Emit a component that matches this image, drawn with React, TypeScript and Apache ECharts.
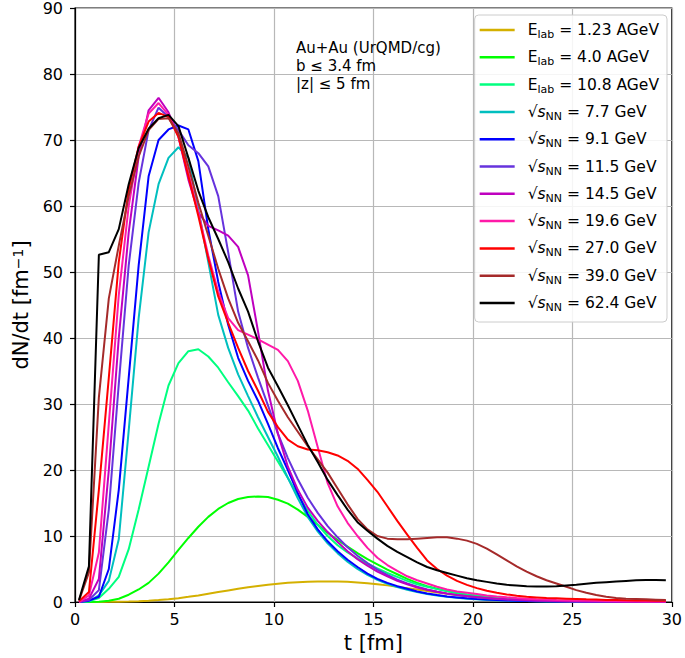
import React, { useEffect, useRef } from 'react';
import * as echarts from 'echarts';

// time bins [fm]
const T = [0.2, 0.7, 1.2, 1.7, 2.2, 2.7, 3.2, 3.7, 4.2, 4.7, 5.2, 5.7, 6.2, 6.7, 7.2, 7.7, 8.2, 8.7, 9.2, 9.7,
  10.2, 10.7, 11.2, 11.7, 12.2, 12.7, 13.2, 13.7, 14.2, 14.7, 15.2, 15.7, 16.2, 16.7, 17.2, 17.7, 18.2, 18.7, 19.2, 19.7,
  20.2, 20.7, 21.2, 21.7, 22.2, 22.7, 23.2, 23.7, 24.2, 24.7, 25.2, 25.7, 26.2, 26.7, 27.2, 27.7, 28.2, 28.7, 29.2, 29.7];

const E123 = [0, 0, 0.01, 0.02, 0.04, 0.07, 0.12, 0.19, 0.3, 0.42, 0.58, 0.78, 1.0, 1.25, 1.5, 1.75, 2.0, 2.22, 2.42, 2.62,
  2.78, 2.9, 3.0, 3.07, 3.1, 3.12, 3.1, 3.05, 2.97, 2.85, 2.7, 2.52, 2.32, 2.1, 1.88, 1.65, 1.43, 1.23, 1.05, 0.89,
  0.75, 0.62, 0.51, 0.42, 0.34, 0.28, 0.23, 0.19, 0.15, 0.12, 0.1, 0.08, 0.07, 0.06, 0.05, 0.04, 0.03, 0.03, 0.02, 0.02];
const E40 = [0, 0, 0.05, 0.2, 0.5, 1.1, 1.9, 2.9, 4.3, 6.0, 7.9, 9.7, 11.4, 12.9, 14.1, 15.0, 15.6, 15.9, 16.0, 15.9,
  15.5, 14.9, 14.0, 12.9, 11.7, 10.5, 9.4, 8.4, 7.4, 6.5, 5.7, 4.9, 4.2, 3.5, 2.9, 2.4, 2.0, 1.65, 1.35, 1.1,
  0.9, 0.75, 0.6, 0.5, 0.4, 0.33, 0.27, 0.22, 0.18, 0.15, 0.12, 0.1, 0.08, 0.07, 0.06, 0.05, 0.04, 0.03, 0.03, 0.02];
const E108 = [0, 0.1, 0.6, 2.0, 3.8, 8.0, 14.0, 20.5, 27.0, 32.8, 36.2, 38.0, 38.3, 37.2, 35.5, 33.3, 31.2, 29.0, 26.3, 23.8,
  21.3, 18.8, 16.2, 13.8, 11.7, 10.0, 8.6, 7.5, 6.6, 5.8, 5.1, 4.4, 3.8, 3.2, 2.7, 2.3, 1.95, 1.65, 1.4, 1.15,
  0.95, 0.8, 0.65, 0.55, 0.45, 0.37, 0.3, 0.25, 0.2, 0.16, 0.13, 0.11, 0.09, 0.07, 0.06, 0.05, 0.04, 0.03, 0.03, 0.02];
const S77 = [0, 0.1, 1.0, 3.2, 9.5, 26, 43, 56, 63.3, 67.3, 68.9, 67.3, 59.5, 51.5, 43.5, 38.5, 34.5, 31.2, 28, 25,
  22, 18.8, 15.7, 12.9, 10.7, 8.9, 7.4, 6.1, 5.0, 4.1, 3.35, 2.75, 2.25, 1.85, 1.5, 1.2, 1.0, 0.8, 0.65, 0.5,
  0.4, 0.32, 0.26, 0.21, 0.17, 0.14, 0.11, 0.09, 0.07, 0.06, 0.05, 0.04, 0.03, 0.03, 0.02, 0.02, 0.02, 0.01, 0.01, 0.01];
const S91 = [0, 0.2, 0.8, 5, 17, 34, 51, 64.5, 70, 71.6, 72.2, 71.6, 66.8, 56.5, 48.5, 42, 37, 33.5, 30.5, 27,
  23.3, 20, 16.5, 13.3, 11.0, 9.2, 7.7, 6.4, 5.3, 4.3, 3.5, 2.9, 2.4, 2.0, 1.6, 1.3, 1.05, 0.85, 0.7, 0.55,
  0.45, 0.36, 0.29, 0.23, 0.19, 0.15, 0.12, 0.1, 0.08, 0.07, 0.06, 0.05, 0.04, 0.03, 0.03, 0.02, 0.02, 0.02, 0.01, 0.01];
const S115 = [0, 0.3, 1.8, 14, 33, 51, 63.5, 71.5, 74.9, 73.5, 71.5, 69.2, 68, 66, 61.5, 53, 44, 38.5, 34, 29.8,
  25.5, 21.8, 18.6, 15.8, 13.5, 11.5, 9.8, 8.3, 7.0, 5.9, 4.9, 4.1, 3.4, 2.8, 2.3, 1.9, 1.55, 1.27, 1.04, 0.85,
  0.7, 0.57, 0.46, 0.37, 0.3, 0.24, 0.19, 0.15, 0.12, 0.1, 0.08, 0.07, 0.06, 0.05, 0.04, 0.03, 0.03, 0.02, 0.02, 0.02];
const S145 = [0, 0.5, 3.5, 20, 40, 56, 67.5, 74.5, 76.4, 74.2, 70.5, 64, 59, 57, 56.3, 55.5, 53.8, 49.5, 41, 32,
  25.5, 20.5, 17, 14.3, 12.3, 10.6, 9.1, 7.7, 6.5, 5.5, 4.6, 3.9, 3.2, 2.7, 2.2, 1.85, 1.55, 1.3, 1.08, 0.9,
  0.75, 0.62, 0.51, 0.42, 0.35, 0.29, 0.24, 0.2, 0.16, 0.13, 0.11, 0.09, 0.07, 0.06, 0.05, 0.04, 0.04, 0.03, 0.03, 0.02];
const S196 = [0, 1.0, 7.5, 27, 46.5, 60, 69, 74, 75.6, 73.8, 70.5, 65, 59, 52.5, 47, 43, 41.2, 40.5, 39.8, 39,
  38.2, 36.5, 33.5, 29, 23.5, 18, 14.5, 12, 10, 8.2, 6.7, 5.6, 4.7, 3.9, 3.3, 2.8, 2.3, 1.9, 1.6, 1.4,
  1.2, 1.0, 0.85, 0.72, 0.6, 0.5, 0.43, 0.37, 0.32, 0.28, 0.24, 0.21, 0.18, 0.16, 0.14, 0.12, 0.1, 0.09, 0.08, 0.07];
const S270 = [0.1, 1.5, 17, 34, 51.5, 62.5, 69, 72.8, 74.1, 73.5, 70.5, 64.5, 58.5, 52, 46.3, 42.3, 38.5, 35, 32, 28.8,
  26.5, 24.6, 23.6, 23.1, 23.0, 22.7, 22.2, 21.4, 20.2, 18.5, 16.7, 14.5, 12.3, 10.2, 8.2, 6.3, 5.0, 4.0, 3.2, 2.6,
  2.1, 1.7, 1.4, 1.15, 0.95, 0.8, 0.7, 0.6, 0.55, 0.5, 0.45, 0.4, 0.36, 0.32, 0.29, 0.26, 0.24, 0.22, 0.2, 0.18];
const S390 = [0.2, 4.5, 31, 46, 54, 61.5, 67.5, 71.5, 73.2, 73.3, 71, 66, 60.5, 55.5, 50.5, 46, 42.3, 39.5, 36.6, 33.2,
  30.5, 28, 25.8, 23.6, 21.6, 19.6, 17.2, 14.8, 12.6, 11, 10, 9.6, 9.5, 9.5, 9.6, 9.7, 9.8, 9.8, 9.6, 9.3,
  8.8, 8.1, 7.2, 6.3, 5.4, 4.6, 3.9, 3.3, 2.8, 2.3, 1.8, 1.4, 1.05, 0.8, 0.6, 0.5, 0.45, 0.4, 0.35, 0.3];
const S624 = [0.3, 5.4, 52.6, 53.0, 56.5, 63.3, 68.8, 71.7, 73.3, 73.8, 72.1, 67.3, 62.3, 58.3, 55, 51.5, 47.5, 44, 39.5, 35.5,
  32.7, 29.8, 26.8, 23.8, 21.2, 18.5, 16.2, 14, 12.1, 10.8, 9.6, 8.5, 7.6, 6.8, 6, 5.3, 4.8, 4.4, 4, 3.6,
  3.3, 3.05, 2.8, 2.6, 2.5, 2.4, 2.35, 2.35, 2.4, 2.5, 2.6, 2.75, 2.9, 3, 3.1, 3.2, 3.3, 3.35, 3.35, 3.3];

const NAMES = ['E_lab = 1.23 AGeV', 'E_lab = 4.0 AGeV', 'E_lab = 10.8 AGeV', 'sqrt(s_NN) = 7.7 GeV', 'sqrt(s_NN) = 9.1 GeV',
  'sqrt(s_NN) = 11.5 GeV', 'sqrt(s_NN) = 14.5 GeV', 'sqrt(s_NN) = 19.6 GeV', 'sqrt(s_NN) = 27.0 GeV', 'sqrt(s_NN) = 39.0 GeV',
  'sqrt(s_NN) = 62.4 GeV'];
const LABELS = ['{n|E}{s|lab}{n| = 1.23 AGeV}', '{n|E}{s|lab}{n| = 4.0 AGeV}', '{n|E}{s|lab}{n| = 10.8 AGeV}',
  '{n|√}{i|s}{s|NN}{n| = 7.7 GeV}', '{n|√}{i|s}{s|NN}{n| = 9.1 GeV}', '{n|√}{i|s}{s|NN}{n| = 11.5 GeV}',
  '{n|√}{i|s}{s|NN}{n| = 14.5 GeV}', '{n|√}{i|s}{s|NN}{n| = 19.6 GeV}', '{n|√}{i|s}{s|NN}{n| = 27.0 GeV}',
  '{n|√}{i|s}{s|NN}{n| = 39.0 GeV}', '{n|√}{i|s}{s|NN}{n| = 62.4 GeV}'];
const VALUES = [E123, E40, E108, S77, S91, S115, S145, S196, S270, S390, S624];
const COLORS = ['#d4b000', '#00ff00', '#00ff7f', '#00bfbf', '#0000ff', '#6633dd', '#bf00bf', '#ff1aa8', '#ff0000', '#a52a2a', '#000000'];
const ANNOT = ['Au+Au (UrQMD/cg)', 'b ≤ 3.4 fm', '|z| ≤ 5 fm'];

export default function App() {
  const ref = useRef<HTMLDivElement>(null);
  useEffect(() => {
    document.body.style.margin = '0';
    const chart = echarts.init(ref.current!, null, { renderer: 'svg' });
    const font = 'DejaVu Sans';
    const axisCommon = {
      axisLine: { show: true, onZero: false, lineStyle: { color: '#000', width: 1.2 } },
      axisTick: { show: true, inside: false, length: 5, lineStyle: { color: '#000', width: 1.2 } },
      splitLine: { show: true, lineStyle: { color: '#b8b8b8', width: 1.2 } },
    };
    chart.setOption({
      animation: false,
      textStyle: { fontFamily: font },
      grid: { left: 75, top: 6, width: 600, height: 597, show: true, borderColor: '#000', borderWidth: 1.2 },
      xAxis: {
        type: 'value', min: 0, max: 30, interval: 5,
        name: 't [fm]', nameLocation: 'middle', nameGap: 30,
        nameTextStyle: { fontSize: 21, color: '#000', fontFamily: font },
        axisLabel: { fontSize: 16, color: '#000', margin: 9, fontFamily: font },
        ...axisCommon,
      },
      yAxis: {
        type: 'value', min: 0, max: 90, interval: 10,
        name: '{a|dN/dt [fm}{b|−1}{a|]}', nameLocation: 'middle', nameGap: 42,
        nameTextStyle: {
          color: '#000', fontFamily: font, fontSize: 21,
          rich: {
            a: { fontSize: 21, color: '#000', fontFamily: font },
            b: { fontSize: 14, color: '#000', fontFamily: font, verticalAlign: 'top' },
          },
        },
        axisLabel: { fontSize: 16, color: '#000', margin: 12, fontFamily: font },
        ...axisCommon,
      },
      legend: {
        orient: 'vertical', right: 18, top: 15,
        padding: [7, 8, 9, 5], itemGap: 9.3,
        itemWidth: 35, itemHeight: 2.5, icon: 'rect',
        backgroundColor: 'rgba(255,255,255,0.85)', borderColor: '#cccccc', borderWidth: 1, borderRadius: 4,
        selectedMode: false,
        data: NAMES,
        formatter: (name: string) => LABELS[NAMES.indexOf(name)],
        textStyle: {
          fontFamily: font, color: '#000', padding: [0, 0, 0, 8],
          rich: {
            n: { fontSize: 15.5, fontFamily: font, color: '#000', lineHeight: 20, verticalAlign: 'middle' },
            i: { fontSize: 15.5, fontFamily: font, color: '#000', fontStyle: 'italic', lineHeight: 20, verticalAlign: 'middle' },
            s: { fontSize: 11, fontFamily: font, color: '#000', verticalAlign: 'bottom' },
          },
        },
      },
      graphic: ANNOT.map((txt, i) => ({
        type: 'text', x: 296, y: 48 + i * 18, z: 10,
        style: { text: txt, fontFamily: font, fontSize: 15, fill: '#000', verticalAlign: 'middle', align: 'left' },
      })),
      series: NAMES.map((name, k) => ({
        type: 'line', name,
        data: T.map((t, i) => [t, VALUES[k][i]]),
        symbol: 'none', showSymbol: false,
        lineStyle: { color: COLORS[k], width: 2 },
        itemStyle: { color: COLORS[k] },
        z: 2 + k,
      })),
    });
    return () => chart.dispose();
  }, []);
  return <div ref={ref} style={{ width: 685, height: 658 }} />;
}
